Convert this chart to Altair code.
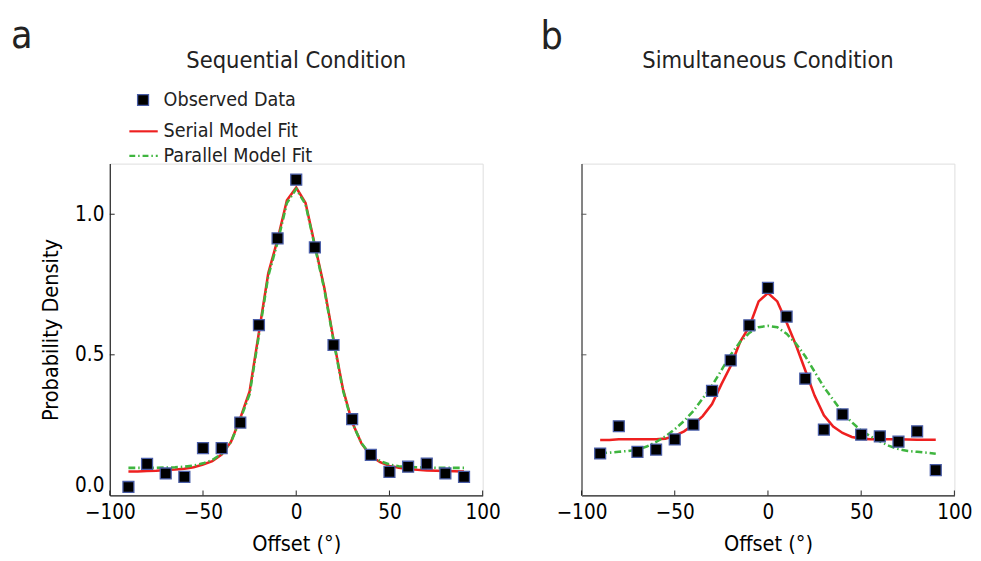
import altair as alt
import pandas as pd

FONT = "DejaVu Sans Condensed"
TXT = "#222222"
RED = "#ee2020"
GREEN = "#3fb53f"
MARK_EDGE = "#4a5ea8"

# ---- observed data (offsets in degrees) ----
offsets = [-90, -80, -70, -60, -50, -40, -30, -20, -10, 0, 10, 20, 30, 40, 50, 60, 70, 80, 90]
seq_obs = [0.03, 0.112, 0.078, 0.066, 0.168, 0.168, 0.259, 0.606, 0.914, 1.123, 0.882, 0.535,
           0.271, 0.144, 0.084, 0.102, 0.113, 0.078, 0.066]
sim_obs = [0.149, 0.246, 0.155, 0.163, 0.199, 0.252, 0.372, 0.480, 0.605, 0.738, 0.636, 0.415,
           0.234, 0.288, 0.216, 0.210, 0.191, 0.228, 0.090]

# ---- model fits ----
fit_x = [-90, -85, -80, -75, -70, -65, -60, -55, -50, -45, -40, -35, -30, -25, -20, -15, -10, -5, 0,
         5, 10, 15, 20, 25, 30, 35, 40, 45, 50, 55, 60, 65, 70, 75, 80, 85, 90]
seq_serial = [0.085, 0.085, 0.087, 0.088, 0.090, 0.092, 0.095, 0.100, 0.110, 0.122, 0.145, 0.19, 0.275,
              0.37, 0.58, 0.79, 0.91, 1.05, 1.095, 1.04, 0.89, 0.74, 0.555, 0.38, 0.26, 0.185, 0.14,
              0.118, 0.105, 0.098, 0.094, 0.091, 0.089, 0.088, 0.087, 0.086, 0.085]
seq_parallel = [0.098, 0.098, 0.098, 0.098, 0.099, 0.100, 0.102, 0.106, 0.114, 0.126, 0.148, 0.19, 0.27,
                0.36, 0.57, 0.78, 0.90, 1.04, 1.09, 1.035, 0.885, 0.735, 0.55, 0.375, 0.258, 0.186,
                0.143, 0.122, 0.110, 0.104, 0.101, 0.100, 0.099, 0.098, 0.098, 0.098, 0.098]
sim_serial = [0.197, 0.197, 0.200, 0.200, 0.200, 0.200, 0.200, 0.202, 0.212, 0.228, 0.252, 0.282, 0.325,
              0.395, 0.46, 0.545, 0.60, 0.69, 0.72, 0.69, 0.615, 0.535, 0.445, 0.355, 0.285, 0.245,
              0.222, 0.208, 0.202, 0.200, 0.200, 0.200, 0.200, 0.199, 0.198, 0.198, 0.198]
sim_parallel = [0.150, 0.152, 0.155, 0.158, 0.163, 0.174, 0.19, 0.21, 0.235, 0.265, 0.30, 0.345, 0.39,
                0.445, 0.50, 0.545, 0.578, 0.598, 0.603, 0.598, 0.575, 0.54, 0.495, 0.44, 0.385,
                0.34, 0.295, 0.26, 0.23, 0.21, 0.192, 0.176, 0.165, 0.158, 0.155, 0.152, 0.148]

legend_labels = ["Observed Data", "Serial Model Fit", "Parallel Model Fit"]
x_ticks = [-100, -50, 0, 50, 100]
y_ticks = [0.0, 0.5, 1.0]

W, H = 381, 339


def panel(obs, serial, parallel, title, letter, first):
    xs = alt.Scale(domain=[-100, 100], nice=False, zero=False)
    ys = alt.Scale(domain=[0, 1.18], nice=False, zero=False)
    xaxis = alt.Axis(values=x_ticks, format="d", tickSize=0, labelFontSize=21, labelPadding=7,
                     labelFlush=False, title="Offset (°)", titleFontSize=22, titlePadding=11,
                     titleFontWeight="normal", labelFont=FONT, titleFont=FONT,
                     domainColor="#222222", domainWidth=1.2, grid=False)
    if first:
        yaxis = alt.Axis(values=y_ticks, format=".1f", tickSize=0, labelFontSize=21, labelPadding=6,
                         labelFlush=True, labelFlushOffset=0, title="Probability Density",
                         titleFontSize=22, titlePadding=12, titleFontWeight="normal",
                         labelFont=FONT, titleFont=FONT, domainColor="#222222",
                         domainWidth=1.2, grid=False)
        ycol = "#222222"
    else:
        yaxis = alt.Axis(values=y_ticks, labels=False, tickSize=0, title=None,
                         domainColor="#666666", domainWidth=1.6, grid=False)
        ycol = "#555555"
    X = alt.X("x:Q", scale=xs, axis=xaxis)
    Y = alt.Y("y:Q", scale=ys, axis=yaxis)

    obs_df = pd.DataFrame({"x": offsets, "y": obs})
    ser_df = pd.DataFrame({"x": fit_x, "y": serial})
    par_df = pd.DataFrame({"x": fit_x, "y": parallel})

    serial_line = alt.Chart(ser_df).mark_line(color=RED, strokeWidth=2.6).encode(x=X, y=Y)
    parallel_line = alt.Chart(par_df).mark_line(
        color=GREEN, strokeWidth=2.6, strokeDash=[7, 3, 1.5, 3]).encode(x=X, y=Y)
    points = alt.Chart(obs_df).mark_point(
        shape="square", filled=True, size=125, fill="black", stroke=MARK_EDGE,
        strokeWidth=1.3, opacity=1).encode(x=X, y=Y)

    xt = alt.Chart(pd.DataFrame({"x": x_ticks})).mark_rule(color="#222222", strokeWidth=1).encode(
        x=X, y=alt.value(H), y2=alt.value(H - 5))
    yt = alt.Chart(pd.DataFrame({"y": y_ticks[1:]})).mark_rule(color=ycol, strokeWidth=1).encode(
        y=Y, x=alt.value(0), x2=alt.value(5))

    one = pd.DataFrame({"k": [0]})
    ttl = alt.Chart(one).mark_text(text=title, font=FONT, fontSize=24, color=TXT, align="center",
                                   baseline="alphabetic").encode(x=alt.value(W / 2), y=alt.value(-98))
    let = alt.Chart(one).mark_text(text=letter, font=FONT, fontSize=40, color=TXT, align="left",
                                   baseline="alphabetic").encode(
        x=alt.value(-101 if first else -42), y=alt.value(-118 if first else -117))

    layers = [serial_line, parallel_line, points, xt, yt, ttl, let]

    if first:
        lg_sq = alt.Chart(one).mark_point(shape="square", filled=True, size=125, fill="black",
                                          stroke=MARK_EDGE, strokeWidth=1.3, opacity=1).encode(
            x=alt.value(34), y=alt.value(-65))
        lg_red = alt.Chart(one).mark_rule(color=RED, strokeWidth=2.2).encode(
            x=alt.value(20), x2=alt.value(49), y=alt.value(-33))
        lg_green = alt.Chart(one).mark_rule(color=GREEN, strokeWidth=2.2,
                                            strokeDash=[6, 3, 1.5, 3]).encode(
            x=alt.value(20), x2=alt.value(49), y=alt.value(-8))
        lg_txt = []
        for lab, yy in zip(legend_labels, [-65, -33, -8]):
            lg_txt.append(alt.Chart(one).mark_text(text=lab, font=FONT, fontSize=20, color=TXT,
                                                   align="left", baseline="middle").encode(
                x=alt.value(55), y=alt.value(yy)))
        layers += [lg_sq, lg_red, lg_green] + lg_txt

    return alt.layer(*layers).properties(width=W, height=H)


left = panel(seq_obs, seq_serial, seq_parallel, "Sequential Condition", "a", True)
right = panel(sim_obs, sim_serial, sim_parallel, "Simultaneous Condition", "b", False)

chart = alt.hconcat(left, right, spacing=39).properties(
    padding={"left": 2, "top": 2, "right": 0, "bottom": 0}
).configure_view(strokeWidth=0).configure_axis(
    labelFont=FONT, titleFont=FONT, labelColor=TXT, titleColor=TXT, titleFontWeight="normal"
).configure(background="white")

chart.save("out.html", embed_options={"renderer": "svg", "actions": False})
